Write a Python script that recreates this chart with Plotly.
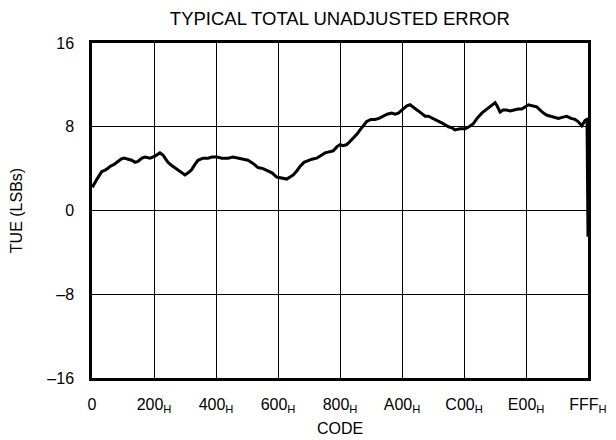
import plotly.graph_objects as go

codes = [4, 11, 41, 80, 116, 149, 182, 215, 239, 264, 297, 328, 355, 380, 413, 438, 479, 520, 561, 586,
         603, 627, 658, 685, 710, 743, 768, 793, 823, 850, 875, 916, 958, 991, 1030, 1073, 1123, 1164, 1205, 1247,
         1288, 1329, 1371, 1412, 1453, 1486, 1525, 1560, 1608, 1635, 1662, 1692, 1717, 1750, 1786, 1816, 1855, 1891,
         1924, 1957, 1992, 2023, 2048, 2073, 2103, 2130, 2157, 2188, 2213, 2238, 2268, 2304, 2337, 2370, 2405, 2436,
         2475, 2502, 2529, 2560, 2599, 2626, 2653, 2683, 2708, 2750, 2777, 2816, 2860, 2899, 2943, 2972, 2997, 3038,
         3080, 3113, 3148, 3179, 3218, 3253, 3286, 3311, 3328, 3344, 3369, 3394, 3424, 3452, 3493, 3518, 3548, 3575,
         3603, 3633, 3672, 3699, 3727, 3757, 3796, 3823, 3851, 3881, 3920, 3955, 3988, 4013, 4044, 4071, 4087, 4095]
tue = [2.2, 2.4, 3.0, 3.7, 3.9, 4.2, 4.4, 4.7, 4.9, 5.0, 4.9, 4.8, 4.6, 4.7, 5.0, 5.1, 5.0, 5.2, 5.5, 5.3,
       5.0, 4.6, 4.3, 4.1, 3.9, 3.6, 3.4, 3.6, 3.9, 4.4, 4.8, 5.0, 5.0, 5.1, 5.1, 5.0, 5.0, 5.1, 5.0, 4.9,
       4.8, 4.5, 4.1, 4.0, 3.8, 3.6, 3.2, 3.1, 3.0, 3.2, 3.4, 3.8, 4.2, 4.6, 4.8, 4.9, 5.0, 5.3,
       5.5, 5.6, 5.7, 6.1, 6.3, 6.2, 6.3, 6.6, 6.9, 7.3, 7.7, 8.1, 8.5, 8.7, 8.7, 8.8, 9.0, 9.2,
       9.3, 9.2, 9.3, 9.6, 10.0, 10.1, 9.9, 9.6, 9.4, 9.0, 9.0, 8.8, 8.5, 8.3, 8.0, 7.9, 7.7, 7.8,
       7.8, 8.0, 8.3, 8.8, 9.3, 9.6, 9.9, 10.1, 10.3, 10.0, 9.4, 9.6, 9.6, 9.5, 9.6, 9.7, 9.7, 9.9,
       10.1, 10.0, 9.9, 9.6, 9.3, 9.1, 9.0, 8.9, 8.8, 8.9, 9.0, 8.8, 8.7, 8.5, 8.1, 8.6, 8.7, -2.5]

x_tick_vals = [0, 512, 1024, 1536, 2048, 2560, 3072, 3584, 4095]
x_tick_labels = ["0", "200", "400", "600", "800", "A00", "C00", "E00", "FFF"]
x_tick_suffix = ["", "H", "H", "H", "H", "H", "H", "H", "H"]
y_tick_vals = [-16, -8, 0, 8, 16]
y_tick_text = ["\u201316", "\u20138", "0", "8", "16"]

x_tick_text = [lab + (f"<sub><span style='color:black'>{s}</span></sub>" if s else "")
               for lab, s in zip(x_tick_labels, x_tick_suffix)]

fig = go.Figure()
fig.add_trace(go.Scatter(x=codes, y=tue, mode="lines",
                         line=dict(color="black", width=3), showlegend=False))

font = dict(family="Liberation Sans, Arial, sans-serif", size=16, color="black")
fig.update_layout(
    width=600, height=432,
    margin=dict(l=84, r=20, t=35, b=62),
    paper_bgcolor="white", plot_bgcolor="white",
    font=font,
    title=dict(text="TYPICAL TOTAL UNADJUSTED ERROR", x=0.553, xanchor="center",
               y=1 - 11 / 432, yanchor="middle", font=dict(size=18.5)),
    annotations=[dict(text="CODE", xref="paper", yref="paper", x=0.5, y=0,
                      xanchor="center", yanchor="middle", yshift=-50,
                      showarrow=False, font=dict(size=16, color="black"))],
)
fig.update_xaxes(range=[0, 4095], tickvals=x_tick_vals, ticktext=x_tick_text,
                 showgrid=True, gridcolor="black", gridwidth=1,
                 showline=True, linecolor="black", linewidth=2.5, mirror=True,
                 ticks="", zeroline=False, ticklabelstandoff=10, automargin=False,
                 tickfont=dict(size=16, color="black"))
fig.update_yaxes(range=[-16, 16], tickvals=y_tick_vals, ticktext=y_tick_text,
                 showgrid=True, gridcolor="black", gridwidth=1,
                 showline=True, linecolor="black", linewidth=2.5, mirror=True,
                 ticks="", zeroline=False, ticklabelstandoff=12, automargin=False,
                 tickfont=dict(size=16, color="black"),
                 title=dict(text="TUE (LSBs)", standoff=22, font=dict(size=16)))

fig.write_html("out.html")
